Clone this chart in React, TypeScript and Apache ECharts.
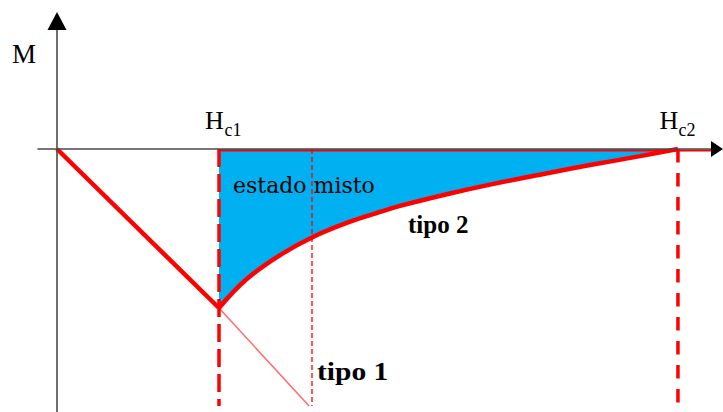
import React, { useEffect, useRef } from "react";
import * as echarts from "echarts";

// Field values in units of Hc1 (H) and of the magnetization at Hc1 (M).
const HC1 = 1.0;
const HC2 = 3.833;
const H_MISTO = 1.574;
const AXIS_MIN_H = -0.1173;
const AXIS_MAX_H = 4.074;
const AXIS_MIN_M = -1.654;
const AXIS_MAX_M = 0.805;
const M_BOTTOM = -1.616;
const RED_BASE_M = -0.01;

// Meissner state: M = -H up to Hc1
const tipo1Thick: [number, number][] = [
  [0, 0],
  [1.0, -1.0],
];
// Type 1 continuation beyond Hc1
const tipo1Thin: [number, number][] = [
  [1.0, -1.0],
  [1.556, -1.616],
];
// Type 2 mixed-state magnetization between Hc1 and Hc2
const tipo2H = [1.0, 1.171, 1.377, 1.574, 1.788, 1.994, 2.117, 2.426, 2.673, 3.043, 3.29, 3.599, 3.833];
const tipo2M = [-1.0, -0.818, -0.667, -0.556, -0.465, -0.396, -0.358, -0.28, -0.224, -0.149, -0.101, -0.045, 0];

const RED = "#ff0000";
const CYAN = "#00b0f0";
const AXIS = "#4a4a4a";

export default function App() {
  const ref = useRef<HTMLDivElement>(null);

  useEffect(() => {
    if (!ref.current) return;
    const chart = echarts.init(ref.current, undefined, { renderer: "svg" });
    const tipo2 = tipo2H.map((h, i) => [h, tipo2M[i]]);

    const vline = (h: number, width: number, dash: number[]) => ({
      type: "line",
      data: [
        [h, 0],
        [h, M_BOTTOM],
      ],
      showSymbol: false,
      silent: true,
      lineStyle: { color: RED, width, type: dash },
      z: 4,
    });

    const axisCommon = {
      type: "value",
      z: 10,
      axisLine: {
        onZero: true,
        lineStyle: { color: AXIS, width: 1.6 },
      },
      axisTick: { show: false },
      axisLabel: { show: false },
      splitLine: { show: false },
    };

    chart.setOption({
      animation: false,
      backgroundColor: "#ffffff",
      grid: { left: 38, right: 6, top: 21, bottom: 0 },
      xAxis: { ...axisCommon, min: AXIS_MIN_H, max: AXIS_MAX_H },
      yAxis: { ...axisCommon, min: AXIS_MIN_M, max: AXIS_MAX_M },
      series: [
        {
          // mixed state region
          type: "line",
          data: tipo2,
          smooth: 0.4,
          showSymbol: false,
          lineStyle: { width: 0 },
          areaStyle: { color: CYAN, opacity: 1 },
          z: 1,
        },
        {
          type: "line",
          data: [
            [HC1, RED_BASE_M],
            [AXIS_MAX_H, RED_BASE_M],
          ],
          showSymbol: false,
          lineStyle: { color: RED, width: 2 },
          z: 2,
        },
        vline(H_MISTO, 1.3, [5, 3]),
        vline(HC1, 3.5, [18, 7]),
        vline(HC2, 3.5, [13.5, 10.5]),
        {
          type: "line",
          data: tipo1Thin,
          showSymbol: false,
          lineStyle: { color: "#ff6a6a", width: 1.5 },
          z: 3,
        },
        {
          type: "line",
          data: tipo1Thick,
          showSymbol: false,
          lineStyle: { color: RED, width: 4.5 },
          z: 5,
        },
        {
          type: "line",
          data: tipo2,
          smooth: 0.4,
          showSymbol: false,
          lineStyle: { color: RED, width: 4.5 },
          z: 5,
        },
      ],
    });

    const px = (h: number, m: number) =>
      chart.convertToPixel({ xAxisIndex: 0, yAxisIndex: 0 }, [h, m]) as number[];
    const o = px(0, 0);
    const p1 = px(HC1, 0);
    const p2 = px(HC2, 0);
    const xEnd = px(AXIS_MAX_H, 0);
    const yEnd = px(0, AXIS_MAX_M);

    const serif = "'Liberation Serif', 'Times New Roman', serif";
    const txt = (
      text: string,
      x: number,
      y: number,
      size: number,
      opts: { family?: string; weight?: string; align?: string; scaleX?: number } = {}
    ) => ({
      type: "text",
      x,
      y,
      scaleX: opts.scaleX ?? 1,
      z: 20,
      style: {
        text,
        x: 0,
        y: 0,
        fill: "#000000",
        font: `${opts.weight ?? "normal"} ${size}px ${opts.family ?? serif}`,
        align: opts.align ?? "left",
        verticalAlign: "middle",
      },
    });

    chart.setOption({
      graphic: [
        // arrowheads of the H and M axes
        {
          type: "polygon",
          z: 20,
          shape: {
            points: [
              [xEnd[0] + 6, xEnd[1]],
              [xEnd[0] - 6, xEnd[1] - 8],
              [xEnd[0] - 6, xEnd[1] + 8],
            ],
          },
          style: { fill: "#000000" },
        },
        {
          type: "polygon",
          z: 20,
          shape: {
            points: [
              [yEnd[0], yEnd[1] - 9],
              [yEnd[0] - 9.5, yEnd[1] + 9],
              [yEnd[0] + 9.5, yEnd[1] + 9],
            ],
          },
          style: { fill: "#000000" },
        },
        txt("M", o[0] - 33, o[1] - 94.8, 27, { align: "center" }),
        txt("H", p1[0] - 14, p1[1] - 28.8, 26),
        txt("c1", p1[0] + 5.5, p1[1] - 18.9, 18),
        txt("H", p2[0] - 18.5, p2[1] - 28.8, 26),
        txt("c2", p2[0] + 0.5, p2[1] - 18.9, 18),
        txt("estado misto", p1[0] + 14, p1[1] + 36.7, 22, {
          family: "'DejaVu Serif', serif",
        }),
        txt("tipo 2", 408, 224.6, 25, { weight: "bold" }),
        txt("tipo 1", 317, 371.6, 25, { weight: "bold", scaleX: 1.18 }),
      ],
    });

    return () => chart.dispose();
  }, []);

  return (
    <div
      ref={ref}
      style={{ position: "fixed", left: 0, top: 0, width: 723, height: 412, background: "#fff" }}
    />
  );
}
